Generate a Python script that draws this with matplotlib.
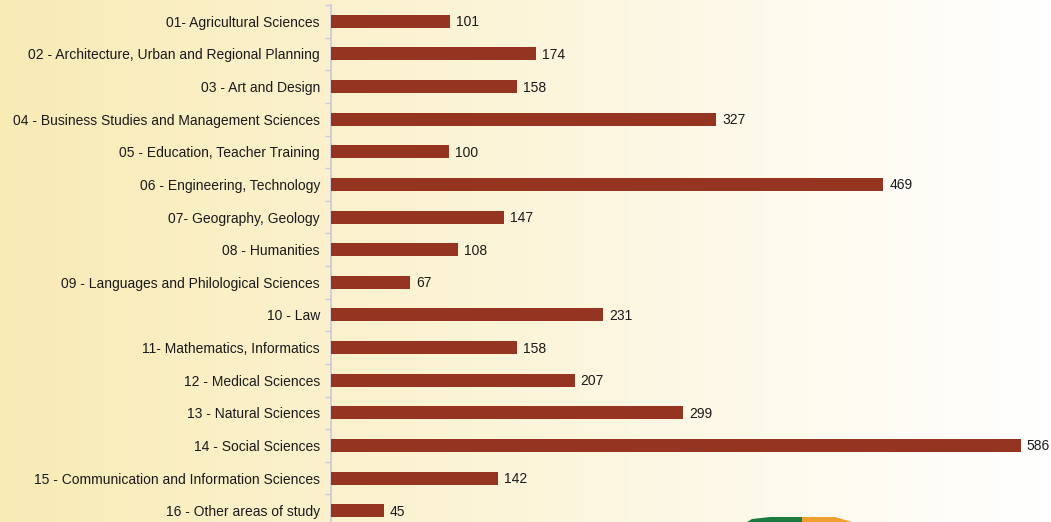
import numpy as np
import matplotlib
matplotlib.use("Agg")
import matplotlib.pyplot as plt
from matplotlib.patches import Polygon

categories = [
    "01- Agricultural Sciences",
    "02 - Architecture, Urban and Regional Planning",
    "03 - Art and Design",
    "04 - Business Studies and Management Sciences",
    "05 - Education, Teacher Training",
    "06 - Engineering, Technology",
    "07- Geography, Geology",
    "08 - Humanities",
    "09 - Languages and Philological Sciences",
    "10 - Law",
    "11- Mathematics, Informatics",
    "12 - Medical Sciences",
    "13 - Natural Sciences",
    "14 - Social Sciences",
    "15 - Communication and Information Sciences",
    "16 - Other areas of study",
]
values = [101, 174, 158, 327, 100, 469, 147, 108, 67, 231, 158, 207, 299, 586, 142, 45]

plt.rcParams['font.family'] = ['Liberation Sans', 'DejaVu Sans']

W, H = 1051, 522
fig = plt.figure(figsize=(W / 100, H / 100), dpi=100)

# background gradient
bg = fig.add_axes([0, 0, 1, 1], zorder=-10)
grad = np.linspace(0, 1, 256)[None, :]
c0 = np.array([249, 235, 182]) / 255.0
c1 = np.array([255, 255, 255]) / 255.0
img = c0[None, None, :] * (1 - grad[..., None]) + c1[None, None, :] * grad[..., None]
bg.imshow(img, aspect='auto', extent=[0, 1, 0, 1])
bg.set_axis_off()

# decoration at the bottom (partial logo)
deco = fig.add_axes([0, 0, 1, 1], zorder=-5)
deco.set_xlim(0, W)
deco.set_ylim(H, 0)
deco.set_axis_off()
deco.add_patch(Polygon([[747, 522], [752, 519], [770, 517], [802, 517], [802, 522]],
                       closed=True, color='#1a7a40', lw=0))
deco.add_patch(Polygon([[802, 522], [802, 517], [835, 517], [842, 519], [852, 522]],
                       closed=True, color='#f0a030', lw=0))

left_px, right_px = 331, 1051
top_px, bottom_px = 5, 527
ax = fig.add_axes([left_px / W, 1 - bottom_px / H, (right_px - left_px) / W, (bottom_px - top_px) / H])
ax.patch.set_alpha(0)

n = len(categories)
y = np.arange(n)
ax.barh(y, values, height=0.4, color='#943421', zorder=3)
ax.set_ylim(n - 0.5, -0.5)
scale = 1.1775
ax.set_xlim(0, (right_px - left_px) / scale)

for yi, v in zip(y, values):
    ax.text(v + 5, yi + 0.03, str(v), va='center', ha='left', fontsize=10, color='#1a1a1a')

ax.set_yticks(y)
ax.set_yticklabels(categories, fontsize=10, color='#1a1a1a')
ax.tick_params(axis='y', length=0, pad=8)
ax.set_yticks(np.arange(-0.5, n, 1.0), minor=True)
ax.tick_params(axis='y', which='minor', length=4, color='#c8c8e0', width=1)
ax.set_xticks([])
for s in ['top', 'right', 'bottom']:
    ax.spines[s].set_visible(False)
ax.spines['left'].set_color('#c8c8e0')
ax.spines['left'].set_linewidth(1.2)

fig.savefig('out.png', dpi=100)
